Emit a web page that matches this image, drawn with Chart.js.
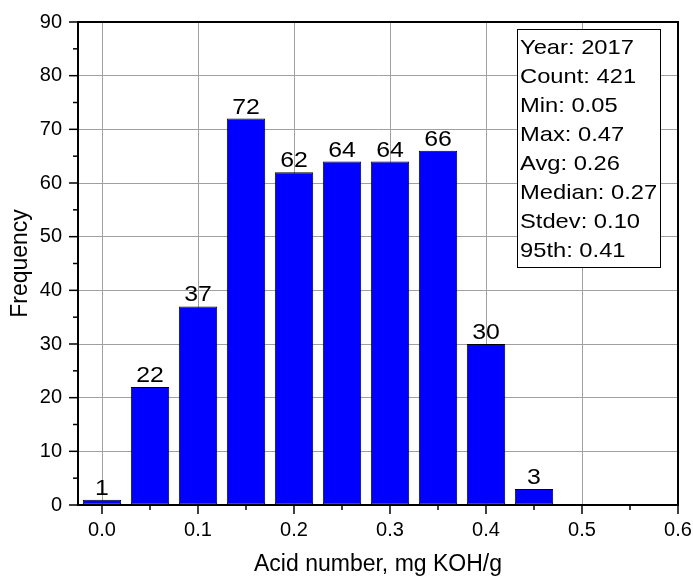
<!DOCTYPE html>
<html>
<head>
<meta charset="utf-8">
<script src="https://cdn.jsdelivr.net/npm/chart.js@4"></script>
<style>
  body { margin: 0; background: #fff; }
  #wrap { width: 693px; height: 578px; }
</style>
</head>
<body>
<div id="wrap"><canvas id="hist"></canvas></div>
<script>
// histogram bins (centers) and counts
var binCenters = [0.0, 0.05, 0.1, 0.15, 0.2, 0.25, 0.3, 0.35, 0.4, 0.45];
var counts = [1, 22, 37, 72, 62, 64, 64, 66, 30, 3];
var statsLines = ["Year: 2017", "Count: 421", "Min: 0.05", "Max: 0.47",
                  "Avg: 0.26", "Median: 0.27", "Stdev: 0.10", "95th: 0.41"];

var FONT = '"Liberation Sans", Arial, sans-serif';
var STRETCH = 1.13; // source text is a bit wider than plain Arial

function wideText(ctx, s, x, y) {
  ctx.save();
  ctx.translate(x, y);
  ctx.scale(STRETCH, 1);
  ctx.fillText(s, 0, 0);
  ctx.restore();
}

// minor/major ticks, box frame, value labels, stats box
var decor = {
  id: 'decor',
  afterDatasetsDraw: function(chart) {
    var ctx = chart.ctx;
    var meta = chart.getDatasetMeta(0);
    ctx.save();
    ctx.fillStyle = '#000';
    ctx.font = '22px ' + FONT;
    ctx.textAlign = 'center';
    ctx.textBaseline = 'alphabetic';
    meta.data.forEach(function(bar, i) {
      wideText(ctx, String(counts[i]), bar.x, bar.y - 5);
    });
    ctx.restore();
  },
  afterDraw: function(chart) {
    var ctx = chart.ctx;
    var a = chart.chartArea;
    var xs = chart.scales.x, ys = chart.scales.y;
    ctx.save();
    ctx.strokeStyle = '#000';
    ctx.lineWidth = 2;
    // frame top/right
    ctx.beginPath();
    ctx.moveTo(a.left, a.top); ctx.lineTo(a.right, a.top); ctx.lineTo(a.right, a.bottom);
    ctx.stroke();
    // x ticks
    ctx.lineWidth = 1.5;
    for (var v = 0; v <= 0.6001; v += 0.05) {
      var px = xs.getPixelForValue(v);
      var major = Math.abs(Math.round(v * 10) - v * 10) < 1e-6;
      ctx.beginPath();
      ctx.moveTo(px, a.bottom);
      ctx.lineTo(px, a.bottom + (major ? 9 : 5));
      ctx.stroke();
    }
    // y ticks
    for (var w = 0; w <= 90; w += 5) {
      var py = ys.getPixelForValue(w);
      ctx.beginPath();
      ctx.moveTo(a.left, py);
      ctx.lineTo(a.left - (w % 10 === 0 ? 9 : 5), py);
      ctx.stroke();
    }
    // stats box
    var bx = a.right - 161, by = a.top + 7, bw = 143, bh = 238;
    ctx.fillStyle = '#fff';
    ctx.fillRect(bx, by, bw, bh);
    ctx.lineWidth = 1;
    ctx.strokeStyle = '#000';
    ctx.strokeRect(bx + 0.5, by + 0.5, bw, bh);
    ctx.fillStyle = '#000';
    ctx.font = '21px ' + FONT;
    ctx.textAlign = 'left';
    ctx.textBaseline = 'middle';
    statsLines.forEach(function(s, i) {
      wideText(ctx, s, bx + 3, by + 19 + i * 29);
    });
    ctx.restore();
  }
};

new Chart(document.getElementById('hist'), {
  type: 'bar',
  data: {
    datasets: [{
      data: binCenters.map(function(x, i) { return {x: x, y: counts[i]}; }),
      backgroundColor: '#0000ff',
      borderColor: '#000',
      borderWidth: 1,
      borderSkipped: false,
      barPercentage: 0.8,
      categoryPercentage: 1.0
    }]
  },
  options: {
    responsive: true,
    maintainAspectRatio: false,
    animation: false,
    layout: { padding: { top: 22, right: 15, left: 0, bottom: 0 } },
    plugins: { legend: { display: false }, tooltip: { enabled: false } },
    scales: {
      x: {
        type: 'linear',
        offset: false,
        min: -0.025,
        max: 0.6,
        afterFit: function(s) { s.height = 73; s.paddingLeft = 0; s.paddingRight = 0; },
        ticks: {
          stepSize: 0.1,
          includeBounds: false,
          padding: 13,
          color: '#000',
          font: { family: FONT, size: 20 },
          callback: function(v) { return Number(v).toFixed(1); }
        },
        grid: { color: '#a0a0a0', lineWidth: 1, drawTicks: false, offset: false },
        border: { color: '#000', width: 2 },
        title: {
          display: true,
          text: 'Acid number, mg KOH/g',
          color: '#000',
          font: { family: FONT, size: 23 },
          padding: { top: 0, bottom: 0 }
        }
      },
      y: {
        min: 0,
        max: 90,
        afterFit: function(s) { s.width = 78; s.paddingTop = 0; s.paddingBottom = 0; },
        ticks: {
          stepSize: 10,
          padding: 16,
          color: '#000',
          font: { family: FONT, size: 20 }
        },
        grid: { color: '#a0a0a0', lineWidth: 1, drawTicks: false },
        border: { color: '#000', width: 2 },
        title: {
          display: true,
          text: 'Frequency',
          color: '#000',
          font: { family: FONT, size: 23 },
          padding: { top: 7, bottom: 0 }
        }
      }
    }
  },
  plugins: [decor]
});
</script>
</body>
</html>
